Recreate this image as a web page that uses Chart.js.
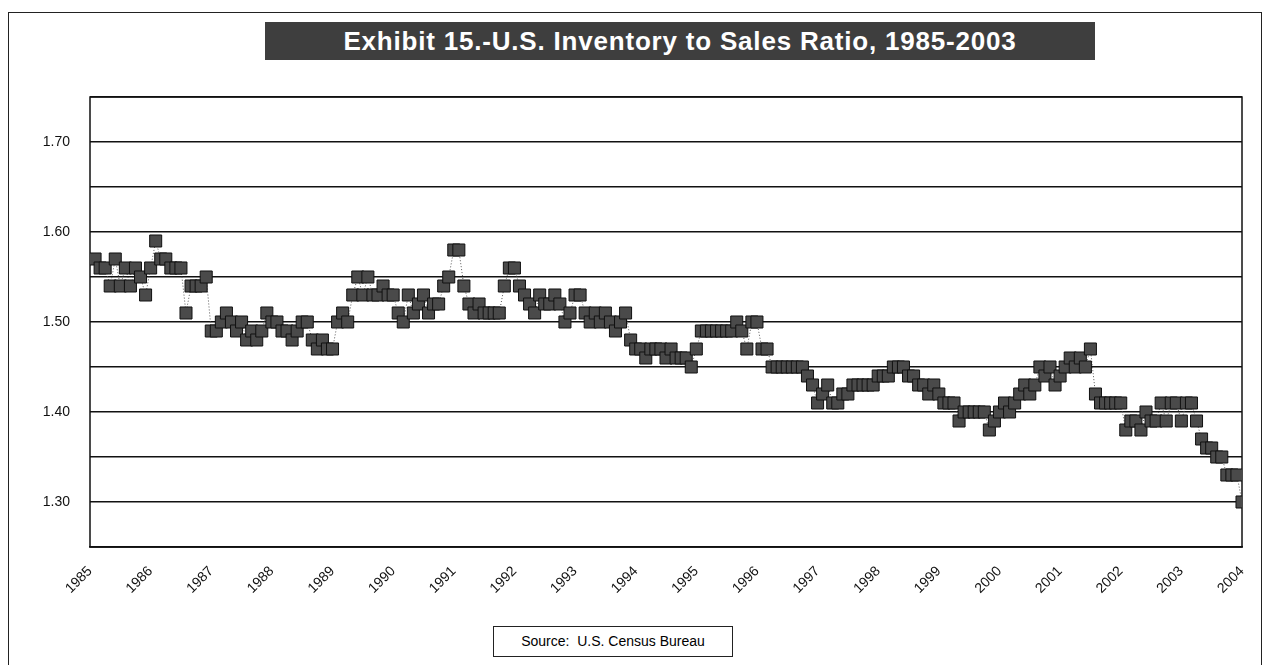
<!DOCTYPE html>
<html>
<head>
<meta charset="utf-8">
<script src="https://cdn.jsdelivr.net/npm/chart.js@4.4.0/dist/chart.umd.min.js"></script>
<style>
html, body { margin: 0; padding: 0; background: #fff; }
#wrap { position: relative; width: 1265px; height: 665px; overflow: hidden; }
#frame { position: absolute; left: 8px; top: 12px; width: 1254px; height: 670px; border: 1px solid #222; box-sizing: border-box; }
#title { position: absolute; left: 265px; top: 22px; width: 830px; height: 38px; background: #3e3e3e;
  color: #fff; font: bold 26px "Liberation Sans", Arial, sans-serif; letter-spacing: 0.8px; text-align: center; line-height: 38px; }
#source { position: absolute; left: 493px; top: 626px; width: 240px; height: 31px; border: 1px solid #222; box-sizing: border-box;
  font: 14px "Liberation Sans", Arial, sans-serif; text-align: center; line-height: 29px; background: #fff; }
canvas { position: absolute; left: 0; top: 0; }
</style>
</head>
<body>
<div id="wrap">
  <div id="frame"></div>
  <canvas id="ratioChart" width="1265" height="665"></canvas>
  <div id="title">Exhibit 15.-U.S. Inventory to Sales Ratio, 1985-2003</div>
  <div id="source">Source:&nbsp; U.S. Census Bureau</div>
</div>
<script>
// monthly inventory / sales ratio (Jan..Dec)
var ratio1985 = [1.57, 1.56, 1.56, 1.54, 1.57, 1.54, 1.56, 1.54, 1.56, 1.55, 1.53, 1.56];
var ratio1986 = [1.59, 1.57, 1.57, 1.56, 1.56, 1.56, 1.51, 1.54, 1.54, 1.54, 1.55, 1.49];
var ratio1987 = [1.49, 1.50, 1.51, 1.50, 1.49, 1.50, 1.48, 1.49, 1.48, 1.49, 1.51, 1.50];
var ratio1988 = [1.50, 1.49, 1.49, 1.48, 1.49, 1.50, 1.50, 1.48, 1.47, 1.48, 1.47, 1.47];
var ratio1989 = [1.50, 1.51, 1.50, 1.53, 1.55, 1.53, 1.55, 1.53, 1.53, 1.54, 1.53, 1.53];
var ratio1990 = [1.51, 1.50, 1.53, 1.51, 1.52, 1.53, 1.51, 1.52, 1.52, 1.54, 1.55, 1.58];
var ratio1991 = [1.58, 1.54, 1.52, 1.51, 1.52, 1.51, 1.51, 1.51, 1.51, 1.54, 1.56, 1.56];
var ratio1992 = [1.54, 1.53, 1.52, 1.51, 1.53, 1.52, 1.52, 1.53, 1.52, 1.50, 1.51, 1.53];
var ratio1993 = [1.53, 1.51, 1.50, 1.51, 1.50, 1.51, 1.50, 1.49, 1.50, 1.51, 1.48, 1.47];
var ratio1994 = [1.47, 1.46, 1.47, 1.47, 1.47, 1.46, 1.47, 1.46, 1.46, 1.46, 1.45, 1.47];
var ratio1995 = [1.49, 1.49, 1.49, 1.49, 1.49, 1.49, 1.49, 1.50, 1.49, 1.47, 1.50, 1.50];
var ratio1996 = [1.47, 1.47, 1.45, 1.45, 1.45, 1.45, 1.45, 1.45, 1.45, 1.44, 1.43, 1.41];
var ratio1997 = [1.42, 1.43, 1.41, 1.41, 1.42, 1.42, 1.43, 1.43, 1.43, 1.43, 1.43, 1.44];
var ratio1998 = [1.44, 1.44, 1.45, 1.45, 1.45, 1.44, 1.44, 1.43, 1.43, 1.42, 1.43, 1.42];
var ratio1999 = [1.41, 1.41, 1.41, 1.39, 1.40, 1.40, 1.40, 1.40, 1.40, 1.38, 1.39, 1.40];
var ratio2000 = [1.41, 1.40, 1.41, 1.42, 1.43, 1.42, 1.43, 1.45, 1.44, 1.45, 1.43, 1.44];
var ratio2001 = [1.45, 1.46, 1.45, 1.46, 1.45, 1.47, 1.42, 1.41, 1.41, 1.41, 1.41, 1.41];
var ratio2002 = [1.38, 1.39, 1.39, 1.38, 1.40, 1.39, 1.39, 1.41, 1.39, 1.41, 1.41, 1.39];
var ratio2003 = [1.41, 1.41, 1.39, 1.37, 1.36, 1.36, 1.35, 1.35, 1.33, 1.33, 1.33, 1.30];

var yearLabels = ['1985', '1986', '1987', '1988', '1989', '1990', '1991', '1992', '1993', '1994',
                  '1995', '1996', '1997', '1998', '1999', '2000', '2001', '2002', '2003', '2004'];
var yTickLabels = ['1.30', '1.40', '1.50', '1.60', '1.70'];

var years = [ratio1985, ratio1986, ratio1987, ratio1988, ratio1989, ratio1990, ratio1991, ratio1992,
             ratio1993, ratio1994, ratio1995, ratio1996, ratio1997, ratio1998, ratio1999, ratio2000,
             ratio2001, ratio2002, ratio2003];

// one point per month, placed at the end of its month
var points = [];
years.forEach(function (months, y) {
    months.forEach(function (v, m) {
        points.push({ x: 1985 + y + (m + 1) / 12, y: v });
    });
});

// box around the plot area
var plotFrame = {
    id: 'plotFrame',
    beforeDatasetsDraw: function (chart) {
        var a = chart.chartArea, ctx = chart.ctx;
        ctx.save();
        ctx.strokeStyle = '#111';
        ctx.lineWidth = 1.5;
        ctx.strokeRect(a.left, a.top, a.right - a.left, a.bottom - a.top);
        ctx.restore();
    }
};

var ctx = document.getElementById('ratioChart').getContext('2d');
var ratioChart = new Chart(ctx, {
    type: 'line',
    data: {
        datasets: [{
            label: 'Inventory to Sales Ratio',
            data: points,
            borderColor: '#555',
            borderWidth: 1,
            borderDash: [1, 2],
            pointStyle: 'rect',
            pointRadius: 8.5,
            pointBackgroundColor: '#4a4a4a',
            pointBorderColor: '#111',
            pointBorderWidth: 1
        }]
    },
    options: {
        responsive: false,
        animation: false,
        layout: { padding: { left: 0, right: 23, top: 97, bottom: 0 } },
        plugins: {
            legend: { display: false },
            tooltip: { enabled: false },
            title: { display: false }
        },
        scales: {
            x: {
                type: 'linear',
                min: 1985,
                max: 2004,
                afterFit: function (scale) { scale.height = 118; },
                grid: { display: false },
                border: { display: true, color: '#111', width: 1.5 },
                ticks: {
                    stepSize: 1,
                    minRotation: 45,
                    maxRotation: 45,
                    padding: 8,
                    color: '#111',
                    font: { family: '"Liberation Sans", Arial, sans-serif', size: 14 },
                    callback: function (v) { return yearLabels[Math.round(v) - 1985]; }
                }
            },
            y: {
                min: 1.25,
                max: 1.75,
                afterFit: function (scale) { scale.width = 90; },
                grid: { color: '#111', lineWidth: 1.5, drawTicks: false },
                border: { display: false },
                ticks: {
                    stepSize: 0.05,
                    padding: 20,
                    color: '#111',
                    font: { family: '"Liberation Sans", Arial, sans-serif', size: 14 },
                    callback: function (v) {
                        var s = v.toFixed(2);
                        return yTickLabels.indexOf(s) >= 0 ? s : '';
                    }
                }
            }
        }
    },
    plugins: [plotFrame]
});
</script>
</body>
</html>
